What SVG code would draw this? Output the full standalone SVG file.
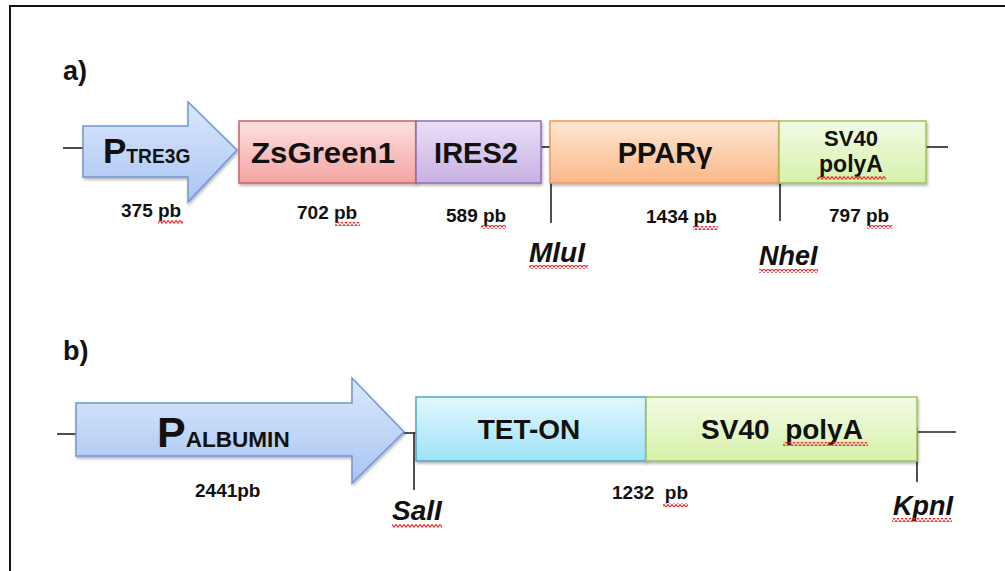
<svg xmlns="http://www.w3.org/2000/svg" width="1005" height="571" viewBox="0 0 1005 571">
<defs>
<linearGradient id="gBlue" x1="0" y1="0" x2="0" y2="1"><stop offset="0" stop-color="#dce8fc"/><stop offset="1" stop-color="#a8c5f2"/></linearGradient>
<linearGradient id="gPink" x1="0" y1="0" x2="0" y2="1"><stop offset="0" stop-color="#fde0e0"/><stop offset="1" stop-color="#f4a4a2"/></linearGradient>
<linearGradient id="gPurple" x1="0" y1="0" x2="0" y2="1"><stop offset="0" stop-color="#ebdff6"/><stop offset="1" stop-color="#c8b0e2"/></linearGradient>
<linearGradient id="gOrange" x1="0" y1="0" x2="0" y2="1"><stop offset="0" stop-color="#fee7d4"/><stop offset="1" stop-color="#fbb888"/></linearGradient>
<linearGradient id="gGreen" x1="0" y1="0" x2="0" y2="1"><stop offset="0" stop-color="#f3fbe5"/><stop offset="1" stop-color="#d6f1aa"/></linearGradient>
<linearGradient id="gCyan" x1="0" y1="0" x2="0" y2="1"><stop offset="0" stop-color="#e2f7fd"/><stop offset="1" stop-color="#9ee2f7"/></linearGradient>
<filter id="sh" x="-10%" y="-10%" width="120%" height="130%"><feDropShadow dx="1" dy="2" stdDeviation="1.5" flood-color="#000" flood-opacity="0.3"/></filter>
<pattern id="wave" width="4" height="4" patternUnits="userSpaceOnUse"><path d="M-1,1 L0,0.5 L2,3.2 L4,0.5 L5,1" fill="none" stroke="#e53030" stroke-width="1.1"/></pattern>
</defs>
<style>
.t{font-family:"Liberation Sans",Arial,sans-serif;font-weight:bold;fill:#111}
.m{text-anchor:middle}
.it{font-style:italic}
.ln{stroke:#222;stroke-width:1.6;fill:none}
.sq{fill:url(#wave)}
</style>
<rect width="1005" height="571" fill="#fff"/>
<path d="M10,571 V6 H1005" fill="none" stroke="#111" stroke-width="2"/>

<g id="connectors">
<line class="ln" x1="63" y1="148" x2="84" y2="148"/>
<line class="ln" x1="540" y1="147" x2="551" y2="147"/>
<line class="ln" x1="551" y1="147" x2="551" y2="223"/>
<line class="ln" x1="780" y1="144" x2="780" y2="221"/>
<line class="ln" x1="926" y1="147" x2="948" y2="147"/>
<line class="ln" x1="57" y1="434" x2="77" y2="434"/>
<line class="ln" x1="403" y1="433" x2="416" y2="433"/>
<line class="ln" x1="414" y1="433" x2="414" y2="490"/>
<line class="ln" x1="917" y1="432" x2="956" y2="432"/>
<line class="ln" x1="917" y1="427" x2="917" y2="482"/>
</g>

<text class="t" x="63" y="80" font-size="27">a)</text>
<text class="t" x="63" y="360" font-size="27">b)</text>

<g id="ptre3g">
<path d="M83,126 H188 V102 L237,150 L188,202 V177 H83 Z" fill="url(#gBlue)" stroke="#7097d4" stroke-width="1.5" filter="url(#sh)"/>
<text class="t" x="103" y="163"><tspan font-size="35">P</tspan><tspan font-size="21" textLength="64" lengthAdjust="spacingAndGlyphs">TRE3G</tspan></text>
<text class="t" x="121" y="217" font-size="19">375 pb</text>
<rect class="sq" x="158" y="220" width="25" height="4"/>
</g>

<g id="zsgreen1">
<rect x="239" y="121" width="177" height="62" fill="url(#gPink)" stroke="#d06060" stroke-width="1.5" filter="url(#sh)"/>
<text class="t m" x="323" y="163" font-size="29" textLength="144" lengthAdjust="spacingAndGlyphs">ZsGreen1</text>
<text class="t" x="297" y="219" font-size="19">702 pb</text>
<rect class="sq" x="335" y="222" width="25" height="4"/>
</g>

<g id="ires2">
<rect x="416" y="121" width="125" height="62" fill="url(#gPurple)" stroke="#8b6fb6" stroke-width="1.5" filter="url(#sh)"/>
<text class="t m" x="476" y="163" font-size="29">IRES2</text>
<text class="t" x="446" y="222" font-size="19">589 pb</text>
<rect class="sq" x="481" y="225" width="25" height="4"/>
</g>

<g id="ppar">
<rect x="550" y="121" width="229" height="62" fill="url(#gOrange)" stroke="#f29650" stroke-width="1.5" filter="url(#sh)"/>
<text class="t m" x="665" y="163" font-size="29">PPARγ</text>
<text class="t" x="646" y="223" font-size="19">1434 pb</text>
<rect class="sq" x="693" y="226" width="25" height="4"/>
</g>

<g id="sv40a">
<rect x="779" y="121" width="147" height="62" fill="url(#gGreen)" stroke="#9cc45c" stroke-width="1.5" filter="url(#sh)"/>
<text class="t m" x="851" y="146" font-size="22">SV40</text>
<text class="t m" x="851" y="172" font-size="23">polyA</text>
<rect class="sq" x="817" y="176" width="69" height="4"/>
<text class="t" x="829" y="222" font-size="19">797 pb</text>
<rect class="sq" x="867" y="225" width="25" height="4"/>
</g>

<g id="mlui">
<text class="t it" x="529" y="262" font-size="28">MluI</text>
<rect class="sq" x="529" y="265" width="59" height="4"/>
</g>
<g id="nhei">
<text class="t it" x="759" y="265" font-size="27">NheI</text>
<rect class="sq" x="759" y="269" width="59" height="4"/>
</g>

<g id="palbumin">
<path d="M76,403 H352 V378 L404,432 L352,483 V456 H76 Z" fill="url(#gBlue)" stroke="#7097d4" stroke-width="1.5" filter="url(#sh)"/>
<text class="t" x="157" y="447"><tspan font-size="43">P</tspan><tspan font-size="22" textLength="104" lengthAdjust="spacingAndGlyphs">ALBUMIN</tspan></text>
<text class="t" x="195" y="497" font-size="19">2441pb</text>
</g>

<g id="teton">
<rect x="416" y="397" width="230" height="64" fill="url(#gCyan)" stroke="#4aa8c8" stroke-width="1.5" filter="url(#sh)"/>
<text class="t m" x="529" y="439" font-size="28">TET-ON</text>
<text class="t" x="612" y="499" font-size="19" xml:space="preserve">1232  pb</text>
<rect class="sq" x="663" y="503" width="25" height="4"/>
</g>

<g id="sv40b">
<rect x="646" y="397" width="271" height="64" fill="url(#gGreen)" stroke="#9cc45c" stroke-width="1.5" filter="url(#sh)"/>
<text class="t m" x="782" y="439" font-size="28" xml:space="preserve">SV40  polyA</text>
<rect class="sq" x="783" y="442" width="85" height="4"/>
</g>

<g id="sali">
<text class="t it" x="392" y="520" font-size="28">SalI</text>
<rect class="sq" x="392" y="524" width="50" height="4"/>
</g>
<g id="kpni">
<text class="t it" x="893" y="515" font-size="27">KpnI</text>
<rect class="sq" x="892" y="518" width="60" height="4"/>
</g>
</svg>
